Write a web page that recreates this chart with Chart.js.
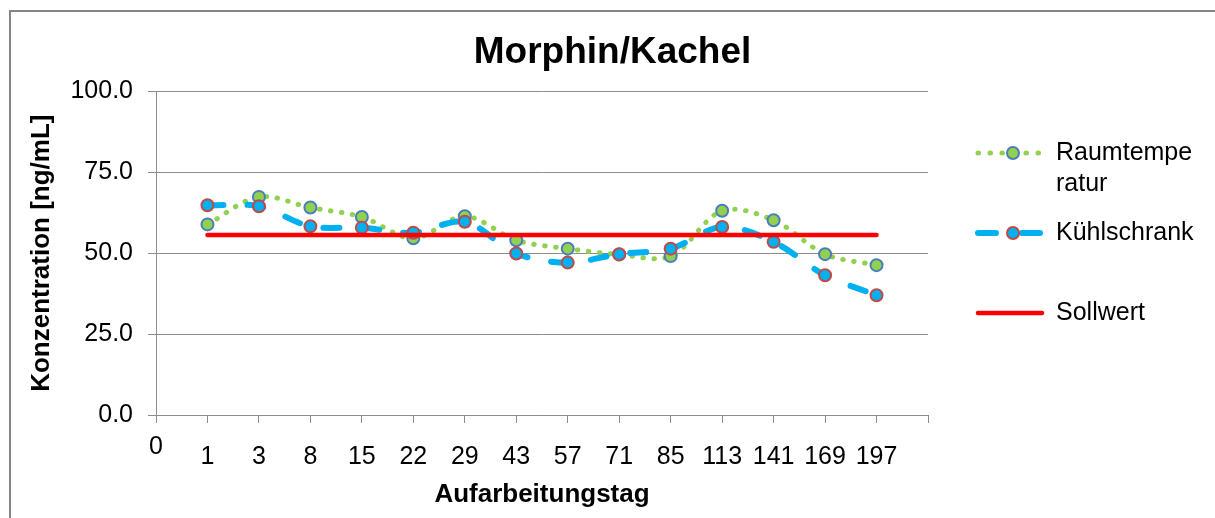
<!DOCTYPE html>
<html>
<head>
<meta charset="utf-8">
<script src="https://cdn.jsdelivr.net/npm/chart.js@4/dist/chart.umd.min.js"></script>
<style>
  html, body { margin: 0; padding: 0; background: #fff; }
  #wrap { width: 1215px; height: 518px; }
</style>
</head>
<body>
<div id="wrap"><canvas id="chart"></canvas></div>
<script>
// Aufarbeitungstag (category axis, "0" at the axis and an empty slot at the end)
var days = ["0", "1", "3", "8", "15", "22", "29", "43", "57", "71", "85", "113", "141", "169", "197", ""];
var raumtemperatur = [null, 58.9, 67.4, 64.1, 61.2, 54.6, 61.4, 54.0, 51.4, 49.6, 49.1, 63.1, 60.2, 49.7, 46.3, null];
var kuehlschrank = [null, 64.8, 64.5, 58.3, 57.9, 56.3, 59.7, 49.9, 47.1, 49.7, 51.4, 58.1, 53.5, 43.2, 37.0, null];
var sollwert = [null, 55.6, 55.6, 55.6, 55.6, 55.6, 55.6, 55.6, 55.6, 55.6, 55.6, 55.6, 55.6, 55.6, 55.6, null];
var legendLines = [["Raumtempe", "ratur"], ["Kühlschrank"], ["Sollwert"]];

var grey = "#8c8c8c";
Chart.defaults.font.family = '"Liberation Sans", Arial, sans-serif';
Chart.defaults.color = "#000";

// grey frame of the chart object (only top and left edge are visible)
var framePlugin = {
  id: "frame",
  beforeDraw: function (chart) {
    var ctx = chart.ctx;
    ctx.save();
    ctx.strokeStyle = "#868686";
    ctx.lineWidth = 2;
    ctx.strokeRect(10, 11, chart.width + 50, chart.height + 50);
    ctx.restore();
  }
};

// legend on the right: line sample with marker, wrapped text
var legendPlugin = {
  id: "sideLegend",
  afterDraw: function (chart) {
    var ctx = chart.ctx;
    var x0 = chart.chartArea.right + 50;
    var x1 = x0 + 64;
    var xm = x0 + 35;
    var tx = x0 + 78;
    var rows = [153, 233, 313];
    chart.data.datasets.forEach(function (ds, i) {
      var y = rows[i];
      ctx.save();
      ctx.strokeStyle = ds.borderColor;
      ctx.lineWidth = ds.borderWidth;
      ctx.lineCap = "round";
      ctx.setLineDash(ds.legendDash || []);
      ctx.beginPath();
      ctx.moveTo(x0, y);
      ctx.lineTo(x1, y);
      ctx.stroke();
      ctx.setLineDash([]);
      if (ds.pointRadius > 0) {
        ctx.beginPath();
        ctx.arc(xm, y, ds.pointRadius, 0, Math.PI * 2);
        ctx.fillStyle = ds.pointBackgroundColor;
        ctx.fill();
        ctx.lineWidth = ds.pointBorderWidth;
        ctx.strokeStyle = ds.pointBorderColor;
        ctx.stroke();
      }
      ctx.fillStyle = "#000";
      ctx.font = '25px "Liberation Sans", Arial, sans-serif';
      ctx.textBaseline = "middle";
      ctx.textAlign = "left";
      legendLines[i].forEach(function (t, k) {
        ctx.fillText(t, tx, y + k * 31);
      });
      ctx.restore();
    });
  }
};

new Chart(document.getElementById("chart"), {
  type: "line",
  data: {
    labels: days,
    datasets: [{
      label: "Raumtemperatur",
      data: raumtemperatur,
      borderColor: "#92D050",
      borderWidth: 5,
      borderDash: [0.5, 10.5],
      legendDash: [0.5, 11.5],
      borderCapStyle: "round",
      tension: 0.33,
      pointRadius: 6,
      pointBorderWidth: 2,
      pointBackgroundColor: "#92D050",
      pointBorderColor: "#4A7EBB",
      order: 3
    }, {
      label: "Kühlschrank",
      data: kuehlschrank,
      borderColor: "#00B0F0",
      borderWidth: 6,
      borderDash: [16, 24],
      legendDash: [18, 26],
      borderCapStyle: "round",
      tension: 0.33,
      pointRadius: 6,
      pointBorderWidth: 2,
      pointBackgroundColor: "#00B0F0",
      pointBorderColor: "#BE4B48",
      order: 2
    }, {
      label: "Sollwert",
      data: sollwert,
      borderColor: "#FF0000",
      borderWidth: 4.5,
      borderCapStyle: "round",
      pointRadius: 0,
      tension: 0,
      order: 1
    }]
  },
  options: {
    responsive: true,
    maintainAspectRatio: false,
    animation: false,
    layout: { padding: { top: 10, left: 10, right: 0, bottom: 0 } },
    plugins: {
      legend: { display: false },
      tooltip: { enabled: false },
      title: {
        display: true,
        text: "Morphin/Kachel",
        font: { size: 37, weight: "bold" },
        color: "#000",
        padding: { top: 21, bottom: 16 }
      }
    },
    scales: {
      x: {
        type: "category",
        offset: false,
        grid: { drawOnChartArea: false, drawTicks: true, tickLength: 8, color: grey },
        border: { color: grey, width: 1 },
        ticks: {
          autoSkip: false,
          maxRotation: 0,
          padding: 19,
          font: { size: 25, lineHeight: "10px" },
          callback: function (value, index) {
            var l = days[index];
            return index === 0 ? l : ["", l];
          }
        },
        title: {
          display: true,
          text: "Aufarbeitungstag",
          font: { size: 26, weight: "bold" },
          padding: { top: 0, bottom: 8 }
        },
        afterFit: function (scale) { scale.height = 103; }
      },
      y: {
        min: 0,
        max: 100,
        grid: { color: grey, tickLength: 8 },
        border: { color: grey, width: 1 },
        ticks: {
          stepSize: 25,
          padding: 15,
          font: { size: 25 },
          callback: function (v) { return v.toFixed(1); }
        },
        title: {
          display: true,
          text: "Konzentration [ng/mL]",
          font: { size: 26, weight: "bold" },
          padding: { top: 16, bottom: 0 }
        },
        afterFit: function (scale) { scale.width = 146; }
      },
      // empty right-hand box that keeps room for the legend
      legendSpace: {
        type: "linear",
        position: "right",
        grid: { display: false },
        border: { display: false },
        ticks: { display: false },
        afterFit: function (scale) { scale.width = 287; }
      }
    }
  },
  plugins: [framePlugin, legendPlugin]
});
</script>
</body>
</html>
